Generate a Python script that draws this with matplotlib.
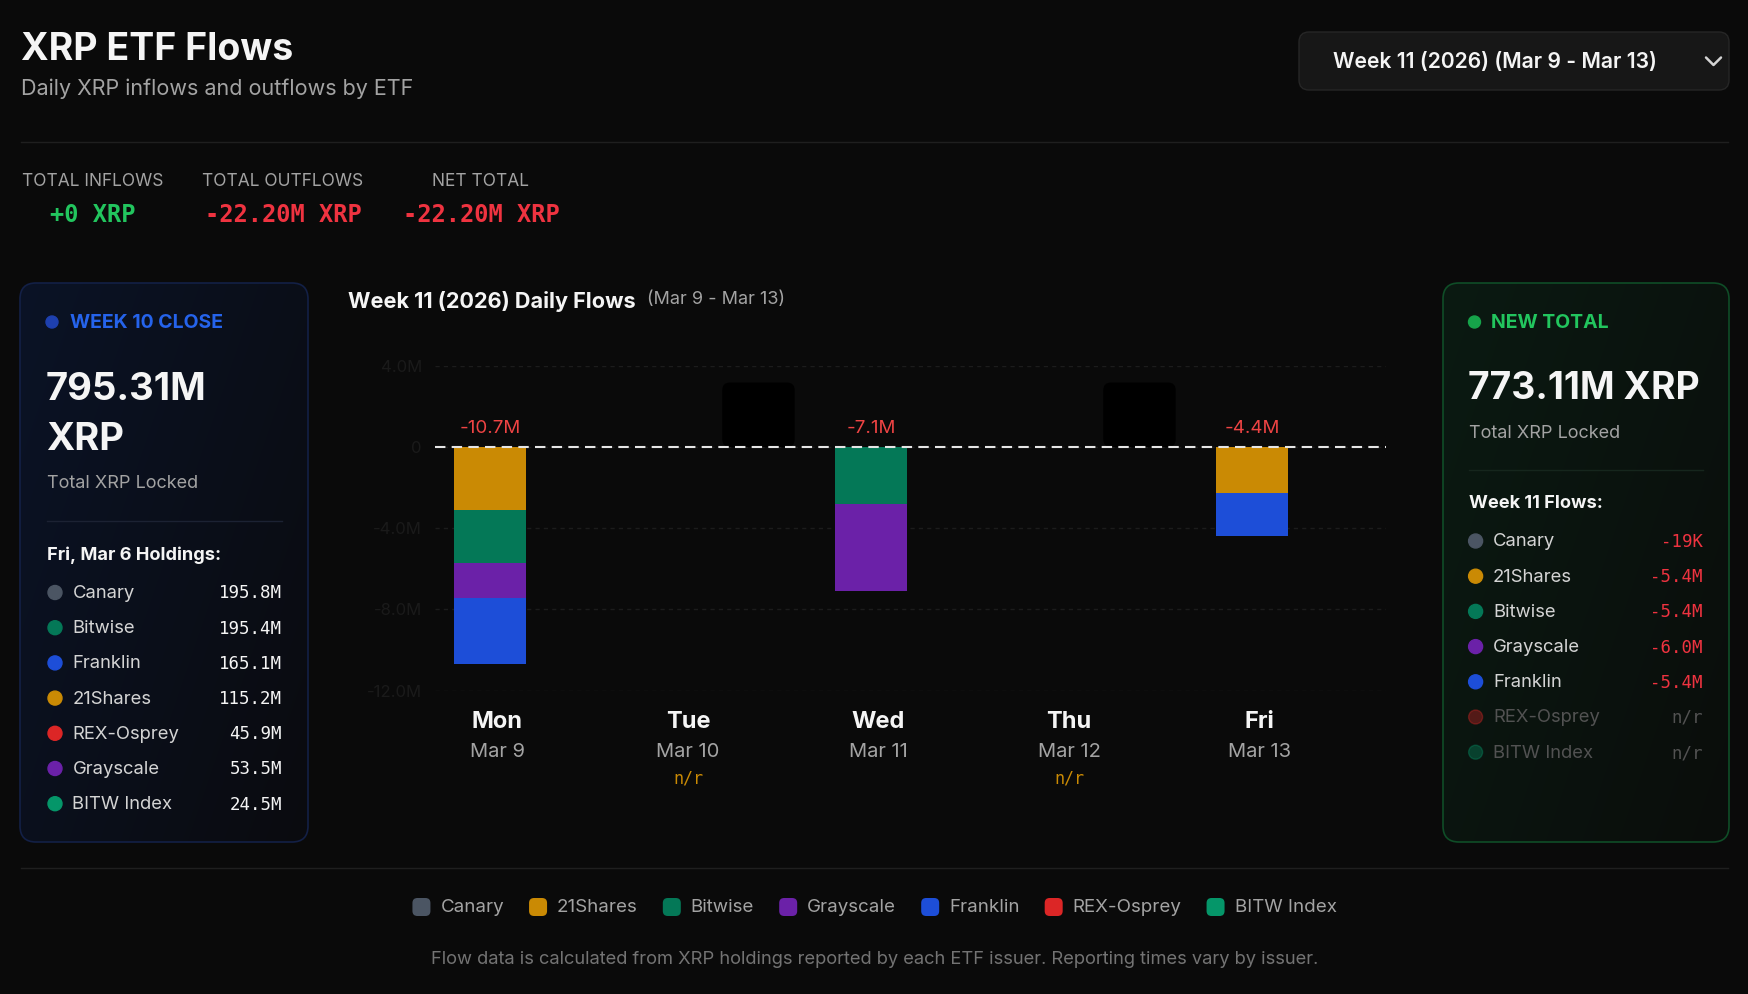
import numpy as np
import matplotlib.pyplot as plt
import matplotlib.transforms as mtransforms
from matplotlib.patches import FancyBboxPatch, Circle
from matplotlib.colors import to_rgb

plt.rcParams['font.family'] = ['Inter', 'DejaVu Sans']
MONO = ['DejaVu Sans Mono']

# ---- data ----
funds = ['Canary', '21Shares', 'Bitwise', 'Grayscale', 'Franklin', 'REX-Osprey', 'BITW Index']
fund_colors = ['#4b5563', '#ca8a04', '#047857', '#6b21a8', '#1d4ed8', '#dc2626', '#059669']
days = ['Mon', 'Tue', 'Wed', 'Thu', 'Fri']
dates = ['Mar 9', 'Mar 10', 'Mar 11', 'Mar 12', 'Mar 13']
day_reported = [True, False, True, False, True]

# daily flows, million XRP (one list per fund, Mon..Fri)
flow_canary = [-0.019, 0, 0, 0, 0]
flow_21shares = [-3.10, 0, 0, 0, -2.27]
flow_bitwise = [-2.60, 0, -2.80, 0, 0]
flow_grayscale = [-1.73, 0, -4.30, 0, 0]
flow_franklin = [-3.25, 0, 0, 0, -2.13]
flow_rex = [0, 0, 0, 0, 0]
flow_bitw_index = [0, 0, 0, 0, 0]
fund_reported = [True, True, True, True, True, False, False]

# week 10 close holdings (million XRP), panel order
hold_names = ['Canary', 'Bitwise', 'Franklin', '21Shares', 'REX-Osprey', 'Grayscale', 'BITW Index']
hold_values = [195.8, 195.4, 165.1, 115.2, 45.9, 53.5, 24.5]
week10_total = 795.31

flows = [flow_canary, flow_21shares, flow_bitwise, flow_grayscale,
         flow_franklin, flow_rex, flow_bitw_index]
flows_arr = np.array(flows, dtype=float)
color_of = dict(zip(funds, fund_colors))

W, H = 1749, 994
BG = '#0a0a0a'
WHITE = '#f5f5f5'
GRAY = '#a3a3a3'
RED = '#ef3340'
GREEN = '#22c55e'

fig = plt.figure(figsize=(W / 100, H / 100), dpi=100, facecolor=BG)
bg = fig.add_axes([0, 0, 1, 1])
bg.axis('off')


def fmt_flow(v):
    if abs(v) < 1:
        return f"{v * 1000:.0f}K"
    return f"{v:.1f}M"


# ---- header ----
bg.text(21, 49.5, 'XRP ETF Flows', color=WHITE, fontsize=27, fontweight='bold', va='center')
bg.text(21, 89, 'Daily XRP inflows and outflows by ETF', color=GRAY, fontsize=15.5, va='center')

dd = FancyBboxPatch((1299, 32), 430, 58, boxstyle='round,pad=0,rounding_size=10',
                    fc='#171717', ec='#262626', lw=1)
bg.add_patch(dd)
bg.text(1333, 62, 'Week 11 (2026) (Mar 9 - Mar 13)', color=WHITE, fontsize=15.2,
        fontweight='semibold', va='center')
bg.plot([1706, 1713.5, 1721], [57.5, 65, 57.5], color='#d4d4d4', lw=1.8,
        solid_capstyle='round', solid_joinstyle='round')

bg.plot([21, 1728], [141.6, 141.6], color='#1f1f1f', lw=1)

inflow = flows_arr[flows_arr > 0].sum()
outflow = flows_arr[flows_arr < 0].sum()
net = inflow + outflow
stats = [('TOTAL INFLOWS', f"+{inflow:.0f} XRP", GREEN, 92.5),
         ('TOTAL OUTFLOWS', f"{outflow:.2f}M XRP", RED, 283),
         ('NET TOTAL', f"{net:.2f}M XRP", RED, 481)]
for lab, val, col, cx in stats:
    bg.text(cx, 182, lab, color=GRAY, fontsize=12.5, ha='center', va='center')
    bg.text(cx, 215, val, color=col, fontsize=17, fontweight='bold',
            family=MONO, ha='center', va='center')


# ---- side panels ----
def panel(x0, y0, x1, y1, c0, c1, edge):
    p = FancyBboxPatch((x0, y0), x1 - x0, y1 - y0, boxstyle='round,pad=0,rounding_size=16',
                       fc='none', ec=edge, lw=1.2, zorder=3)
    bg.add_patch(p)
    u, v = np.meshgrid(np.linspace(0, 1, 120), np.linspace(0, 1, 200))
    t = np.clip((u * 0.6 + v * 0.4), 0, 1)[..., None]
    img = np.array(to_rgb(c0)) * (1 - t) + np.array(to_rgb(c1)) * t
    im = bg.imshow(img, extent=(x0, x1, y1, y0), aspect='auto', zorder=1,
                   interpolation='bilinear')
    im.set_clip_path(p)


panel(20, 283, 308, 842, '#0b1326', '#0a0b0f', '#132046')
panel(1443, 283, 1729, 842, '#0b1a12', '#0a0d0b', '#0f4d27')

# left panel
bg.add_patch(Circle((52, 322), 6, color='#1e40af', zorder=4))
bg.text(70, 323.5, 'WEEK 10 CLOSE', color='#2563eb', fontsize=14, fontweight='bold', va='center')
bg.text(46, 390, f"{week10_total:.2f}M", color=WHITE, fontsize=27.5, fontweight='bold', va='center')
bg.text(46, 440, 'XRP', color=WHITE, fontsize=27.5, fontweight='bold', va='center')
bg.text(47, 484, 'Total XRP Locked', color=GRAY, fontsize=13, va='center')
bg.plot([47, 282], [521, 521], color='#1c2233', lw=1, zorder=4)
bg.text(47, 555, 'Fri, Mar 6 Holdings:', color=WHITE, fontsize=13.1, fontweight='bold', va='center')
for k, (nm, val) in enumerate(zip(hold_names, hold_values)):
    yy = 593.5 + 35.2 * k
    bg.add_patch(Circle((55, yy - 1), 7, color=color_of[nm], zorder=4))
    bg.text(72.5, yy, nm, color='#d4d4d4', fontsize=13.3, va='center')
    bg.text(282, yy, f"{val:.1f}M", color=WHITE, fontsize=12.5, family=MONO,
            ha='right', va='center')

# right panel
week_totals = flows_arr.sum(axis=1)
new_total = week10_total + week_totals.sum()
bg.add_patch(Circle((1474.5, 322), 6, color='#16a34a', zorder=4))
bg.text(1491, 323.5, 'NEW TOTAL', color=GREEN, fontsize=14, fontweight='bold', va='center')
bg.text(1468, 389, f"{new_total:.2f}M XRP", color=WHITE, fontsize=26.8, fontweight='bold', va='center')
bg.text(1469, 433.5, 'Total XRP Locked', color=GRAY, fontsize=13, va='center')
bg.plot([1469, 1703], [469.6, 469.6], color='#16261d', lw=1, zorder=4)
bg.text(1469, 504, 'Week 11 Flows:', color=WHITE, fontsize=13.1, fontweight='bold', va='center')
for k, (nm, tot, rep) in enumerate(zip(funds, week_totals, fund_reported)):
    yy = 542 + 35.2 * k
    a = 1.0 if rep else 0.35
    bg.add_patch(Circle((1475.6, yy - 1), 7, color=color_of[nm], alpha=a, zorder=4))
    bg.text(1493, yy, nm, color='#d4d4d4' if rep else '#525252', fontsize=13.3, va='center')
    bg.text(1703, yy, fmt_flow(tot) if rep else 'n/r', color=RED if rep else '#525252',
            fontsize=12.5, family=MONO, ha='right', va='center')

# ---- chart ----
bg.text(348, 301, 'Week 11 (2026) Daily Flows', color=WHITE, fontsize=15.6,
        fontweight='bold', va='center')
bg.text(647, 300, '(Mar 9 - Mar 13)', color=GRAY, fontsize=13, va='center')

ax = fig.add_axes([435 / W, 1 - 690.7 / H, (1386 - 435) / W, (690.7 - 365.7) / H])
ax.patch.set_alpha(0)
x = np.arange(len(days))
bar_shift = -0.04
bottom = np.zeros(len(days))
for nm, vals in zip(funds, flows_arr):
    ax.bar(x + bar_shift, vals, width=0.375, bottom=bottom, color=color_of[nm],
           linewidth=0, zorder=2)
    bottom += vals

for i, rep in enumerate(day_reported):
    if rep:
        ax.annotate(f"{bottom[i]:.1f}M", xy=(i + bar_shift, 0), xytext=(0, 13),
                    textcoords='offset points', ha='center', va='center',
                    color='#ef4444', fontsize=13.5)
    else:
        ph = FancyBboxPatch((i + 0.18, 0), 0.38, 3.17,
                            boxstyle='round,pad=0,rounding_size=0.04',
                            mutation_aspect=9.4, fc='#000000', ec='none', zorder=2)
        ax.add_patch(ph)

ax.axhline(0, color='#e5e5e5', lw=1.5, linestyle=(0, (5, 3)), zorder=4)
ax.set_xlim(-0.328, 4.664)
ax.set_ylim(-12, 4)
ax.set_yticks([-12, -8, -4, 0, 4])
ax.set_yticklabels(['0' if t == 0 else f"{t:.1f}M" for t in [-12, -8, -4, 0, 4]])
ax.tick_params(axis='y', length=0, pad=9.5, labelcolor='#1a1a1a', labelsize=12)
ax.set_xticks([])
ax.yaxis.grid(True, color='#1c1c1c', linestyle=(0, (3, 3)), lw=1, zorder=0)
for s in ax.spines.values():
    s.set_visible(False)

trans = mtransforms.blended_transform_factory(ax.transData, bg.transData)
for i, (d, dt, rep) in enumerate(zip(days, dates, day_reported)):
    bg.text(i, 722.5, d, transform=trans, color=WHITE, fontsize=17, fontweight='bold',
            ha='center', va='center')
    bg.text(i, 752, dt, transform=trans, color=GRAY, fontsize=14.5, ha='center', va='center')
    if not rep:
        bg.text(i, 778.5, 'n/r', transform=trans, color='#ca8a04', fontsize=12,
                family=MONO, ha='center', va='center')

# ---- legend + footer ----
bg.plot([21, 1728], [868, 868], color='#1f1f1f', lw=1)
bg.set_xlim(0, W)
bg.set_ylim(H, 0)
renderer = fig.canvas.get_renderer()
texts = []
total_w = 0
gap = 25
for nm in funds:
    t = bg.text(0, 908, nm, color=GRAY, fontsize=13.5, va='center')
    w = t.get_window_extent(renderer).width
    texts.append((t, w))
    total_w += 18 + 10 + w
total_w += gap * (len(funds) - 1)
xc = W / 2 - total_w / 2
for nm, (t, w) in zip(funds, texts):
    bg.add_patch(FancyBboxPatch((xc, 898), 18, 18, boxstyle='round,pad=0,rounding_size=5',
                                fc=color_of[nm], ec='none'))
    t.set_x(xc + 28)
    xc += 28 + w + gap

bg.text(W / 2, 959, 'Flow data is calculated from XRP holdings reported by each ETF issuer. '
        'Reporting times vary by issuer.', color='#737373', fontsize=13.2, ha='center', va='center')

bg.set_xlim(0, W)
bg.set_ylim(H, 0)
fig.savefig('out.png', dpi=100, facecolor=BG)
